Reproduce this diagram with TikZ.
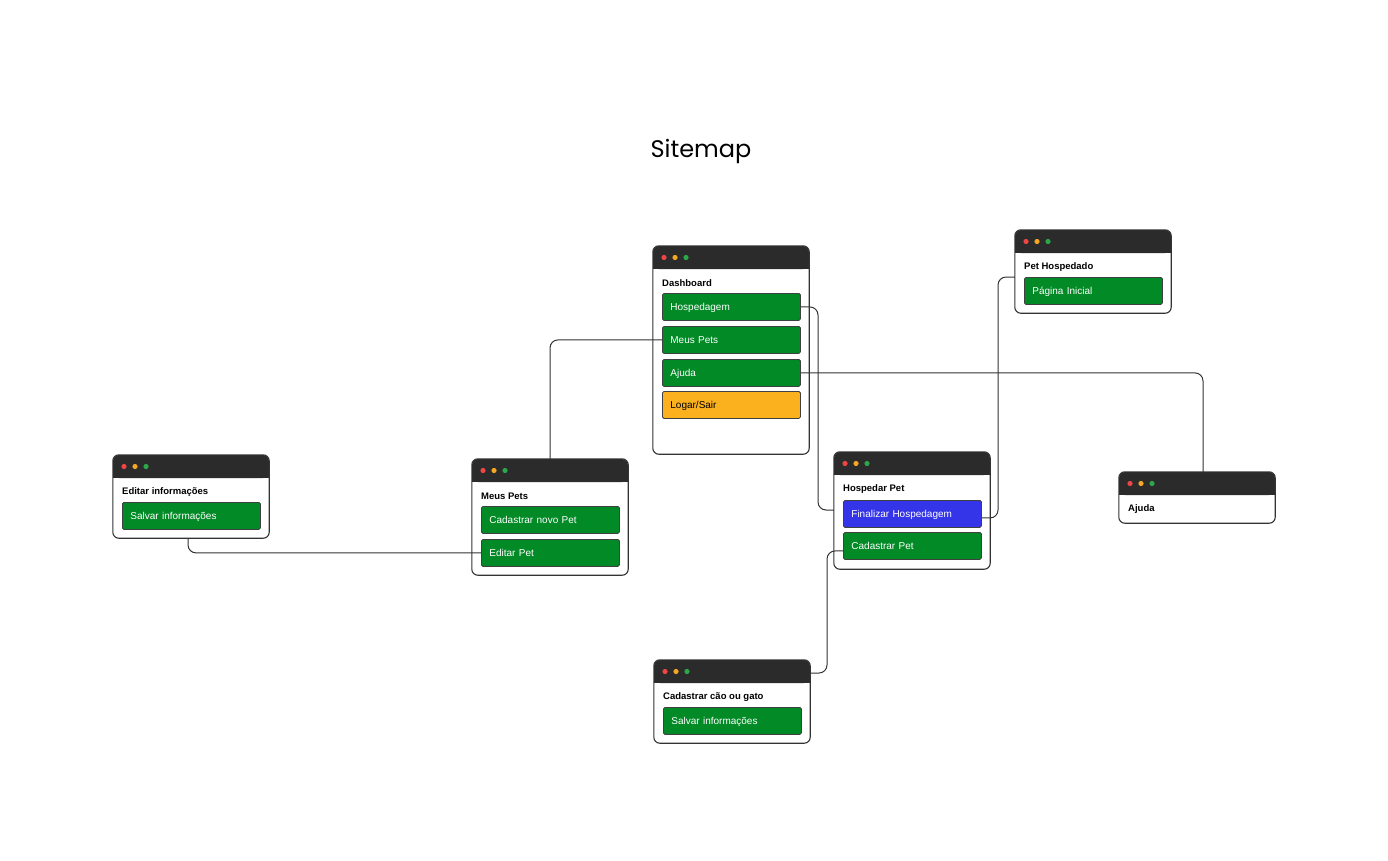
\documentclass[tikz,border=0pt]{standalone}
\usepackage{fontspec}
\setmainfont{Liberation Sans}
\newfontfamily\titlefont{Poppins}
\usetikzlibrary{calc}
\definecolor{barc}{HTML}{2B2B2B}
\definecolor{lnc}{HTML}{333333}
\definecolor{gbtn}{HTML}{018A25}
\definecolor{ybtn}{HTML}{FBB01E}
\definecolor{bbtn}{HTML}{3434E8}
\definecolor{dred}{HTML}{F04545}
\definecolor{dyel}{HTML}{F5A623}
\definecolor{dgrn}{HTML}{2BA84A}
\tikzset{
  winbox/.style={minimum width=156pt, inner sep=0pt, fill=white, rounded corners=6pt},
  winline/.style={draw=lnc, line width=1.1pt, rounded corners=6pt},
  lbl/.style={font=\bfseries\fontsize{9.5}{11}\selectfont, anchor=west, inner sep=0pt},
  btn/.style={anchor=north west, minimum width=138pt, minimum height=27pt, inner xsep=8pt, inner ysep=0pt,
    text width=122pt, align=left, draw=black!75, line width=0.8pt, text=white, rounded corners=1.5pt,
    text height=7.6pt, text depth=1.2pt, font=\fontsize{10}{12}\selectfont},
  conn/.style={draw=lnc, line width=1pt, rounded corners=8pt}
}
\newcommand{\mywin}[5]{%
  \node[winbox, minimum height=#4pt] (#1) at (#2+78,#3+#4/2) {};
  \fill[barc, rounded corners=6pt] (#2,#3) rectangle (#2+156,#3+23);
  \fill[barc] (#2,#3+10) rectangle (#2+156,#3+23);
  \draw[winline] (#1.north west) rectangle (#1.south east);
  \fill[dred] (#2+11,#3+11.5) circle (2.6pt);
  \fill[dyel] (#2+22,#3+11.5) circle (2.6pt);
  \fill[dgrn] (#2+33,#3+11.5) circle (2.6pt);
  \node[lbl] (#1-t) at (#2+9,#3+37) {#5};
}
\begin{document}
\begin{tikzpicture}[x=1pt,y=-1pt]
\useasboundingbox[fill=white] (0,0) rectangle (1388,860);
\node[font=\titlefont\fontsize{24}{29}\selectfont] (title) at (701,151) {Sitemap};

% windows
\mywin{dash}{653}{246}{208}{Dashboard}
\node[btn, fill=gbtn] (dHosp) at (662,293) {Hospedagem};
\node[btn, fill=gbtn] (dMeus) at (662,326) {Meus Pets};
\node[btn, fill=gbtn] (dAjuda) at (662,359) {Ajuda};
\node[btn, fill=ybtn, text=black] (dLog) at (662,391) {Logar/Sair};

\mywin{edw}{113}{455}{83}{Editar informações}
\node[btn, fill=gbtn] (edSalvar) at (122,502) {Salvar informações};

\mywin{mpw}{472}{459}{116}{Meus Pets}
\node[btn, fill=gbtn] (mpCad) at (481,506) {Cadastrar novo Pet};
\node[btn, fill=gbtn] (mpEdit) at (481,539) {Editar Pet};

\mywin{hpw}{834}{452}{117}{Hospedar Pet}
\node[btn, fill=bbtn] (hpFin) at (843,500) {Finalizar Hospedagem};
\node[btn, fill=gbtn] (hpCad) at (843,532) {Cadastrar Pet};

\mywin{phw}{1015}{230}{83}{Pet Hospedado}
\node[btn, fill=gbtn] (phIni) at (1024,277) {Página Inicial};

\mywin{ajw}{1119}{472}{51}{Ajuda}

\mywin{cgw}{654}{660}{83}{Cadastrar cão ou gato}
\node[btn, fill=gbtn] (cgSalvar) at (663,707) {Salvar informações};

% connectors
\draw[conn] (dHosp.east) -- (818,307) -- (818,510) -- (hpw.west |- 0,510);
\draw[conn] (dMeus.west) -| (mpw.north);
\draw[conn] (dAjuda.east) -| ([xshift=6pt]ajw.north);
\draw[conn] (mpEdit.west) -| ([xshift=-3pt]edw.south);
\draw[conn] ([yshift=-4pt]hpFin.east) -- (998,518) -- (998,277) -- (phw.west |- 0,277);
\draw[conn] ([yshift=-5pt]hpCad.west) -- (827,551) -- (827,673) -- (cgw.east |- 0,673);
\end{tikzpicture}
\end{document}
